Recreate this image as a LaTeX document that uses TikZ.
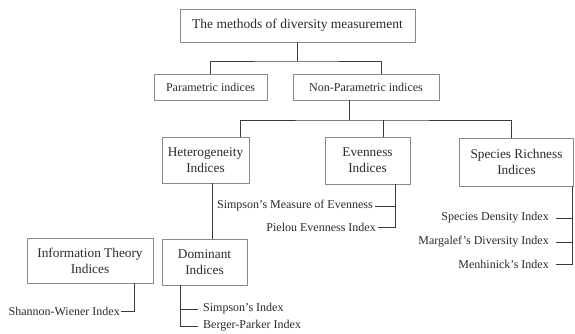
\documentclass[tikz,border=0pt]{standalone}
\usepackage{fontspec}
\setmainfont{Liberation Serif}
\begin{document}
\begin{tikzpicture}[x=1pt,y=-1pt,
  box/.style={draw=boxgray,line width=0.8pt,align=center,inner sep=0pt,text=txt,font=\fontsize{13.3}{16}\selectfont},
  box1/.style={box,font=\fontsize{12}{14}\selectfont},
  item/.style={inner sep=0pt,text=txt,font=\fontsize{12}{14}\selectfont},
  conn/.style={draw=linegray,line width=0.9pt}]
\definecolor{boxgray}{HTML}{8A8A8A}
\definecolor{linegray}{HTML}{3A3A3A}
\definecolor{txt}{HTML}{2A2A2A}
\useasboundingbox (0,0) rectangle (575,333);
% boxes
\node[box,minimum width=235pt,minimum height=33pt,font=\fontsize{13.5}{16}\selectfont] (title) at (297.5,25.5) {The methods of diversity measurement};
\node[box1,minimum width=113pt,minimum height=26pt] (param) at (210.5,87) {Parametric indices};
\node[box1,minimum width=146pt,minimum height=26pt] (nonparam) at (366,87) {Non-Parametric indices};
\node[box,minimum width=87pt,minimum height=46pt] (het) at (205.5,160) {Heterogeneity\\Indices};
\node[box,minimum width=85pt,minimum height=47pt] (even) at (367.5,160.5) {Evenness\\Indices};
\node[box,minimum width=114pt,minimum height=48pt] (rich) at (516.5,162) {Species Richness\\Indices};
\node[box,minimum width=126pt,minimum height=45pt] (info) at (90,260.5) {Information Theory\\Indices};
\node[box,minimum width=85pt,minimum height=46pt] (dom) at (204.5,262) {Dominant\\Indices};
% item labels
\node[item,anchor=east] (sme) at (373,206) {Simpson's Measure of Evenness};
\node[item,anchor=east] (pie) at (376,227) {Pielou Evenness Index};
\node[item,anchor=east] (sdi) at (549,218) {Species Density Index};
\node[item,anchor=east] (mdi) at (549,242) {Margalef's Diversity Index};
\node[item,anchor=east] (men) at (549,264) {Menhinick's Index};
\node[item,anchor=east] (sw) at (120,311) {Shannon-Wiener Index};
\node[item,anchor=west] (si) at (203,309) {Simpson's Index};
\node[item,anchor=west] (bp) at (203,326) {Berger-Parker Index};
% junction coordinates
\coordinate (j1) at (297,61);
\coordinate (npin) at (381,74);
\coordinate (j2) at (349,120);
\coordinate (hetin) at (240,137);
\coordinate (evin) at (383,137);
\coordinate (richin) at (511,138);
\coordinate (domin) at (212,239);
\coordinate (evx) at (395,0);
\coordinate (rx) at (572,0);
\coordinate (ix) at (134,0);
\coordinate (dx) at (180,0);
% connectors
\draw[conn] (title.south -| j1) -- (j1);
\draw[conn] (param.north) |- (j1) -| (npin);
\draw[conn] (j2 |- nonparam.south) -- (j2);
\draw[conn] (hetin) |- (j2) -| (richin);
\draw[conn] (evin) -- (evin |- j2);
\draw[conn] (domin |- het.south) -- (domin);
\draw[conn] (evx |- even.south) |- ([xshift=2pt]pie.east);
\draw[conn] ([xshift=2pt]sme.east) -- (sme.east -| evx);
\draw[conn] (rx |- rich.south) |- ([xshift=7pt]men.east);
\draw[conn] ([xshift=7pt]sdi.east) -- (sdi.east -| rx);
\draw[conn] ([xshift=7pt]mdi.east) -- (mdi.east -| rx);
\draw[conn] (ix |- info.south) |- ([xshift=1pt]sw.east);
\draw[conn] (dx |- dom.south) |- ([xshift=-5pt]bp.west);
\draw[conn] ([xshift=-5pt]si.west) -- (si.west -| dx);
\end{tikzpicture}
\end{document}
